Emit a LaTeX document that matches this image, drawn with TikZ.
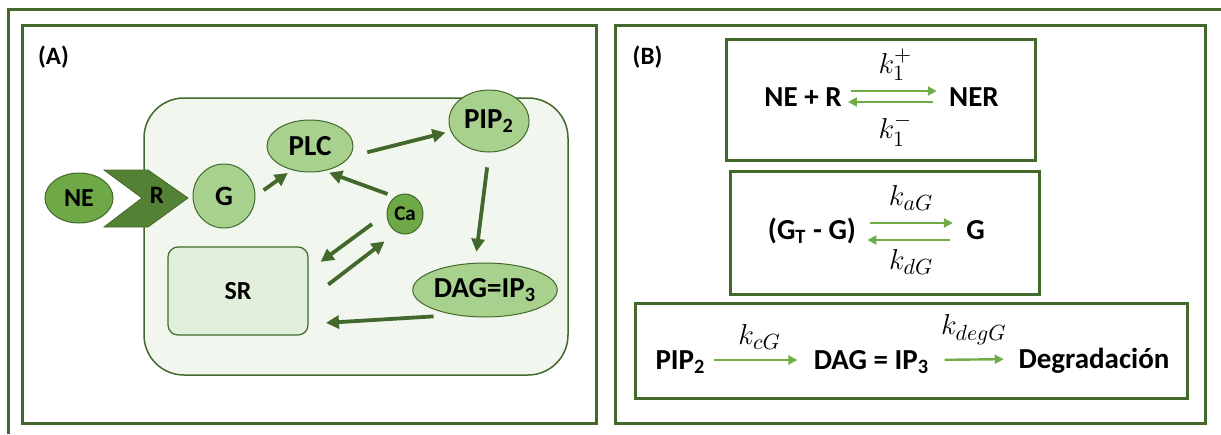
\documentclass[tikz,border=0pt]{standalone}
\usepackage{fontspec}
\setmainfont{Carlito}
\usetikzlibrary{arrows.meta,shapes.geometric}
\definecolor{dk}{HTML}{43682B}
\definecolor{arrA}{HTML}{43682B}
\definecolor{midG}{HTML}{6EA847}
\definecolor{rC}{HTML}{548235}
\definecolor{lt}{HTML}{A9D18E}
\definecolor{cellC}{HTML}{F1F7EE}
\definecolor{srC}{HTML}{E2EFDA}
\definecolor{grB}{HTML}{70AD47}
\newcommand{\fs}[1]{\fontsize{#1}{#1}\selectfont}
\begin{document}
\begin{tikzpicture}[x=0.5pt,y=-0.5pt,
  frame/.style={draw=dk, line width=1.5pt},
  ell/.style={ellipse, draw=dk, line width=0.5pt, fill=lt, inner sep=0pt, font=\bfseries},
  arrowA/.style={draw=arrA, line width=1.9pt, -{Triangle[length=6.5pt,width=6.5pt]}},
  arrowB/.style={draw=grB, line width=1.2pt, -{Triangle[length=4.5pt,width=4.5pt]}},
  txtB/.style={inner sep=0pt, anchor=base, font=\fs{14.5}\bfseries},
  rate/.style={inner sep=0pt, font=\fs{15}},
  tag/.style={inner sep=0pt, font=\fs{12.5}\bfseries}
]
\useasboundingbox (0,0) rectangle (1221,434);
\fill[white] (0,0) rectangle (1221,434);
% outer frame (cropped)
\draw[frame] (8,434) -- (8,9) -- (1221,9);
% panels
\draw[frame] (22,25) rectangle (596,423);
\draw[frame] (615,25) rectangle (1205,423);
\node[tag] (tagA) at (53.5,57.5) {(A)};
\node[tag] (tagB) at (647.5,57.5) {(B)};

% ---------- Panel A ----------
\node[draw=dk, line width=0.75pt, fill=cellC, rounded corners=20pt,
      minimum width=212pt, minimum height=138.5pt] (cell) at (356,236.5) {};
\node[draw=dk, line width=0.6pt, fill=srC, rounded corners=5pt,
      minimum width=70pt, minimum height=44pt, font=\fs{13}\bfseries] (SR) at (238,291) {SR};
\node[ell, fill=midG, minimum width=34pt, minimum height=25pt, font=\fs{13}\bfseries] (NE) at (79,198) {NE};
\filldraw[fill=rC, draw=dk, line width=0.4pt]
  (104,170) -- (148,170) -- (188,198) -- (148,227) -- (104,227) -- (142,198) -- cycle;
\node[inner sep=0pt, font=\fs{12.5}\bfseries] (R) at (157,195) {R};
\node[ell, minimum width=31pt, minimum height=32pt, font=\fs{14}\bfseries] (G) at (224,196) {G};
\node[ell, minimum width=43pt, minimum height=26pt, font=\fs{14.5}\bfseries] (PLC) at (310,146) {PLC};
\node[ell, minimum width=40pt, minimum height=31pt, font=\fs{14.5}\bfseries] (PIP) at (489,121) {PIP\textsubscript{2}};
\node[ell, fill=midG, minimum width=18pt, minimum height=20pt, font=\fs{10.5}\bfseries] (Ca) at (405,214) {Ca};
\node[ell, minimum width=70pt, minimum height=27pt, font=\fs{14.5}\bfseries] (DAG) at (485,290) {DAG=IP\textsubscript{3}};

\draw[arrowA, shorten <=5pt, shorten >=2.5pt] (G.east) -- (PLC.233);
\draw[arrowA, shorten <=4pt, shorten >=2.5pt] (Ca.120) -- (PLC.300);
\draw[arrowA, shorten <=9pt, shorten >=2.7pt] (PLC.345) -- (PIP.195);
\draw[arrowA, shorten <=7.5pt, shorten >=5.5pt] (PIP.south) -- (DAG.110);
\draw[arrowA, shorten <=9pt, shorten >=7.5pt] (Ca.178) -- (SR.16);
\draw[arrowA, shorten <=12.4pt, shorten >=7.5pt] (SR.-7) -- (Ca.245);
\draw[arrowA, shorten <=10.8pt, shorten >=8.7pt] (DAG.220) -- (SR.-25);

% ---------- Panel B ----------
\node[frame, minimum width=154.5pt, minimum height=60.5pt] (box1) at (880.5,99.5) {};
\node[frame, minimum width=154.5pt, minimum height=61.5pt] (box2) at (884.5,232.5) {};
\node[frame, minimum width=276pt, minimum height=47.5pt] (box3) at (911,350.5) {};

\node[txtB] (lhs1) at (803,106) {NE + R};
\node[txtB] (ner) at (974,106) {NER};
\draw[arrowB, shorten <=4.5pt, shorten >=6pt] ([yshift=7.5pt]lhs1.base east) -- node[rate, above=4.5pt] {$k_1^{+}$} ([yshift=7.5pt]ner.base west);
\draw[arrowB, shorten <=8pt, shorten >=3pt] ([yshift=2pt]ner.base west) -- node[rate, below=5.5pt] {$k_1^{-}$} ([yshift=2pt]lhs1.base east);

\node[txtB] (lhs2) at (812,239) {(G\textsubscript{T} - G)};
\node[txtB] (g2) at (975.5,239) {G};
\draw[arrowB, shorten <=7pt, shorten >=6.5pt] ([yshift=8pt]lhs2.base east) -- node[rate, above=5.5pt] {$k_{aG}$} ([yshift=8pt]g2.base west);
\draw[arrowB, shorten <=8pt, shorten >=5.5pt] ([yshift=-0.5pt]g2.base west) -- node[rate, below=4pt] {$k_{dG}$} ([yshift=-0.5pt]lhs2.base east);

\node[txtB] (pip3) at (680.5,369) {PIP\textsubscript{2}};
\node[txtB] (dag3) at (871.5,369) {DAG = IP\textsubscript{3}};
\node[txtB] (deg) at (1094,368) {Degradación};
\draw[arrowB, shorten <=4pt, shorten >=8pt] ([yshift=4.5pt]pip3.base east) -- node[rate, above=4.5pt] {$k_{cG}$} ([yshift=4.5pt]dag3.base west);
\draw[arrowB, shorten <=7.5pt, shorten >=7.2pt] ([yshift=4.5pt]dag3.base east) -- node[rate, above=7pt] {$k_{degG}$} ([yshift=4.5pt]deg.base west);
\end{tikzpicture}
\end{document}
